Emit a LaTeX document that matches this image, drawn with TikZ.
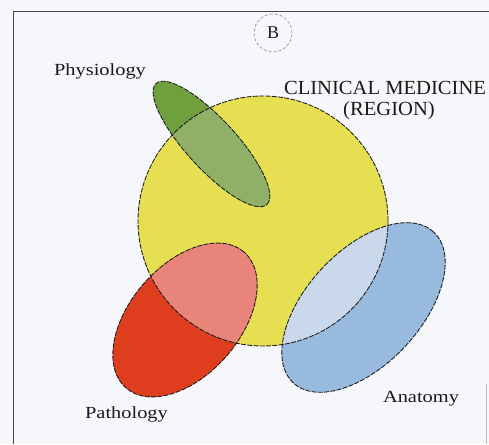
\documentclass[tikz,border=0pt]{standalone}
\usepackage{fontspec}
\setmainfont{Liberation Serif}
\definecolor{bgc}{RGB}{246,247,250}
\definecolor{yel}{RGB}{231,223,82}
\definecolor{gdark}{RGB}{112,160,62}
\definecolor{glight}{RGB}{143,176,102}
\definecolor{rdark}{RGB}{222,62,30}
\definecolor{rlight}{RGB}{232,132,122}
\definecolor{bdark}{RGB}{152,186,222}
\definecolor{blight}{RGB}{202,216,236}
\definecolor{framec}{RGB}{70,70,75}
\tikzset{
  outline/.style={draw=black!90, line width=0.85pt, dash pattern=on 5pt off 1.3pt},
  lbl/.style={font=\fontsize{17}{20}\selectfont, xscale=1.2, text=black!90, inner sep=0pt},
  biglbl/.style={font=\fontsize{20}{24}\selectfont, xscale=1.03, text=black!90, inner sep=0pt},
}
\begin{document}
\begin{tikzpicture}[x=1pt,y=1pt]
\useasboundingbox (0,0) rectangle (489,444);
\fill[bgc] (0,0) rectangle (489,444);
% frame
\draw[framec, line width=1pt] (13,0) -- (13,432) -- (489,432);
\draw[black!25, line width=0.6pt] (486,60) -- (486,0);
% centres
\coordinate (cc) at (263,223);
\coordinate (gc) at (211.5,300);
\coordinate (rc) at (185,124);
\coordinate (bc) at (363.5,136.5);
% fills
\fill[yel] (cc) circle[radius=125pt];
\fill[gdark, rotate around={-47.5:(gc)}] (gc) ellipse[x radius=82pt, y radius=25pt];
\fill[rdark, rotate around={49:(rc)}] (rc) ellipse[x radius=90pt, y radius=55pt];
\fill[bdark, rotate around={47:(bc)}] (bc) ellipse[x radius=103pt, y radius=57pt];
\begin{scope}
  \clip (cc) circle[radius=125pt];
  \fill[glight, rotate around={-47.5:(gc)}] (gc) ellipse[x radius=82pt, y radius=25pt];
  \fill[rlight, rotate around={49:(rc)}] (rc) ellipse[x radius=90pt, y radius=55pt];
  \fill[blight, rotate around={47:(bc)}] (bc) ellipse[x radius=103pt, y radius=57pt];
\end{scope}
% outlines
\draw[outline] (cc) circle[radius=125pt];
\draw[outline, rotate around={-47.5:(gc)}] (gc) ellipse[x radius=82pt, y radius=25pt];
\draw[outline, rotate around={49:(rc)}] (rc) ellipse[x radius=90pt, y radius=55pt];
\draw[outline, rotate around={47:(bc)}] (bc) ellipse[x radius=103pt, y radius=57pt];
% circled B
\coordinate (bm) at (273,411);
\draw[black!45, line width=0.6pt, dash pattern=on 3pt off 2pt] (bm) circle[radius=19pt];
\node[font=\fontsize{18}{20}\selectfont, text=black!90, inner sep=0pt] (blabel) at (bm) {B};
% labels
\node[lbl, anchor=base] (phys) at (100,368) {Physiology};
\node[biglbl, anchor=base] (clin) at (385,349) {CLINICAL MEDICINE};
\node[biglbl, anchor=base] (reg) at (389,328) {(REGION)};
\node[lbl, anchor=base] (path) at (126.5,26) {Pathology};
\node[lbl, anchor=base] (anat) at (421,42) {Anatomy};
\end{tikzpicture}
\end{document}
